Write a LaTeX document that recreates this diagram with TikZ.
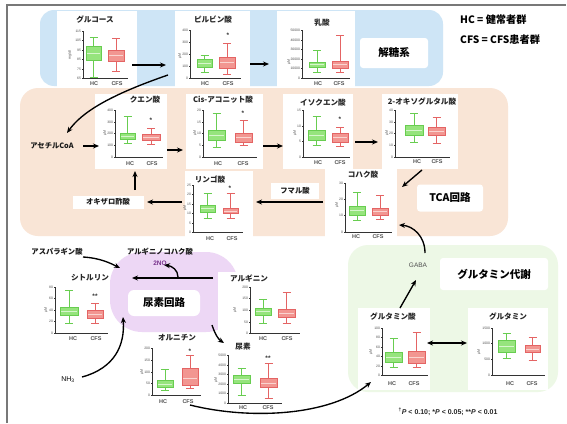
\documentclass[tikz,border=0pt]{standalone}
\usepackage{fontspec}
\setmainfont{Noto Sans CJK JP}
\newfontfamily\lat{Liberation Sans}
\usetikzlibrary{arrows.meta}
\definecolor{bluebg}{RGB}{206,229,246}
\definecolor{beigebg}{RGB}{249,229,214}
\definecolor{greenbg}{RGB}{237,248,230}
\definecolor{purplebg}{RGB}{237,215,245}
\definecolor{hcd}{RGB}{104,205,80}
\definecolor{hcf}{RGB}{150,228,125}
\definecolor{hcm}{RGB}{215,246,205}
\definecolor{cfd}{RGB}{228,100,100}
\definecolor{cff}{RGB}{242,150,145}
\definecolor{cfm}{RGB}{250,212,208}
\definecolor{framec}{RGB}{120,120,120}
\definecolor{txtgray}{RGB}{80,80,80}
\definecolor{noc}{RGB}{120,50,140}
\newcommand\bp[8]{%
 \pgfmathsetmacro\bpc{(#2+#3)/2}%
 \draw[#1l] (\bpc,#4) -- (\bpc,#5) (\bpc,#7) -- (\bpc,#8) (\bpc-4,#4) -- (\bpc+4,#4) (\bpc-4,#8) -- (\bpc+4,#8);
 \draw[#1l, fill=#1f] (#2,#5) rectangle (#3,#7);
 \draw[draw=#1m, line width=0.8pt] (#2+1,#6) -- (#3-1,#6);
}
\newcommand\ax[6]{%
 \draw[axl] (#2,#3) -- (#2,#4) -- (#5,#4);
 \foreach \ty/\tl [count=\ti] in {#6} {\draw[axl] (#2,\ty) -- (#2-1.5,\ty); \node[tk] (#1t\ti) at (#2-1.8,\ty) {\tl};}
}
\begin{document}
\begin{tikzpicture}[x=1pt,y=-1pt,
 hcl/.style={draw=hcd, line width=0.7pt},
 cfl/.style={draw=cfd, line width=0.7pt},
 axl/.style={draw=black!80, line width=0.7pt},
 tk/.style={anchor=east, inner sep=0, font=\lat\fontsize{3.4}{4}\selectfont, text=txtgray},
 unit/.style={rotate=90, inner sep=0, font=\lat\fontsize{3.6}{4}\selectfont, text=txtgray},
 grp/.style={inner sep=0, font=\lat\bfseries\fontsize{5.5}{6}\selectfont, text=txtgray},
 ttl/.style={inner sep=0, font=\bfseries\fontsize{7.6}{8}\selectfont, text=black!85},
 lbl/.style={inner sep=1.5, font=\bfseries\fontsize{7.3}{8}\selectfont, text=black!90},
 big/.style={fill=white, rounded corners=3, inner sep=0, font=\bfseries\fontsize{10.5}{12}\selectfont},
 sig/.style={inner sep=0, font=\lat\bfseries\fontsize{6.5}{6}\selectfont, text=black!80},
 pnl/.style={fill=white, draw=none, inner sep=0},
 arr/.style={-{Stealth[length=6pt,width=5pt]}, line width=1.35pt, black},
 darr/.style={{Stealth[length=6pt,width=5pt]}-{Stealth[length=6pt,width=5pt]}, line width=1.35pt, black}]
\useasboundingbox (0,0) rectangle (567,423);
\fill[white] (0,0) rectangle (567,423);
% backgrounds
\fill[bluebg, rounded corners=14] (40,10) rectangle (443,86);
\fill[beigebg, rounded corners=18] (20,88) rectangle (508,236);
\fill[greenbg, rounded corners=20] (348,245) rectangle (558,392);
\fill[purplebg, rounded corners=32] (110,252) rectangle (238,332);
\draw[framec, line width=1.4pt] (7,423) -- (7,5) -- (566,5);
% legend
\node[anchor=west, inner sep=0, font=\bfseries\fontsize{10.2}{12}\selectfont] (leg1) at (460,20) {HC = 健常者群};
\node[anchor=west, inner sep=0, font=\bfseries\fontsize{10.2}{12}\selectfont] (leg2) at (460,40) {CFS = CFS患者群};
\node[big, minimum width=68, minimum height=30] (glyc) at (394,53) {解糖系};
\node[big, minimum width=66, minimum height=27] (tca) at (450,198) {TCA回路};
\node[big, minimum width=108, minimum height=32] (glnm) at (494,274) {グルタミン代謝};
\node[big, rounded corners=6, minimum width=72, minimum height=26] (urc) at (164,303) {尿素回路};
% ---------- panels ----------
\node[pnl,minimum width=80,minimum height=76] (glc) at (97,49) {};
\node[pnl,minimum width=75,minimum height=76] (pyr) at (212,49) {};
\node[pnl,minimum width=78,minimum height=76] (lac) at (316,49) {};
\node[pnl,minimum width=72,minimum height=75] (cit) at (131,131) {};
\node[pnl,minimum width=77,minimum height=75] (cis) at (224,131) {};
\node[pnl,minimum width=70,minimum height=75] (iso) at (318,131) {};
\node[pnl,minimum width=76,minimum height=75] (oxo) at (420,131) {};
\node[pnl,minimum width=72,minimum height=75] (suc) at (361,206) {};
\node[pnl,minimum width=68,minimum height=73] (mal) at (219,207) {};
\node[pnl,minimum width=75,minimum height=75] (citr) at (72,307) {};
\node[pnl,minimum width=82,minimum height=72] (arg) at (259,308) {};
\node[pnl,minimum width=72,minimum height=82] (glu) at (394,349) {};
\node[pnl,minimum width=80,minimum height=82] (gln) at (508,349) {};
% glucose
\node[ttl] (glcT) at (95,20) {グルコース};
\ax{glc}{83}{31}{78}{128}{31/115,40/105,50/95,59/85,69/75,78/65}
\node[unit] (glcU) at (70,55) {mg/dl};
\bp{hc}{86}{101}{37}{46}{53}{60}{77}
\bp{cf}{108}{124}{38}{50}{55}{61}{71}
\node[grp] (glcH) at (94,84) {HC};
\node[grp] (glcC) at (117,84) {CFS};
% pyruvate
\node[ttl] (pyrT) at (213,20) {ピルビン酸};
\ax{pyr}{190}{30}{78}{241}{30/400,42/300,54/200,66/100,78/0}
\node[unit] (pyrU) at (180,56) {μM};
\bp{hc}{197}{212}{55}{59}{63}{67}{72}
\bp{cf}{219}{235}{43}{57}{62}{68}{74}
\node[sig] (pyrS) at (228,35) {*};
\node[grp] (pyrH) at (205,84) {HC};
\node[grp] (pyrC) at (228,84) {CFS};
% lactate
\node[ttl] (lacT) at (322,23) {乳酸};
\ax{lac}{302}{30}{78}{350}{30/50000,40/40000,49/30000,59/20000,68/10000,78/0}
\node[unit] (lacU) at (289,62) {μM};
\bp{hc}{309}{325}{50}{62}{64}{67}{72}
\bp{cf}{332}{348}{35}{61}{64}{68}{72}
\node[grp] (lacH) at (318,84) {HC};
\node[grp] (lacC) at (339,84) {CFS};
% citrate
\node[ttl] (citT) at (145,100) {クエン酸};
\ax{cit}{115}{110}{157}{163}{110/400,122/300,133/200,145/100,157/0}
\node[unit] (citU) at (105,133) {μM};
\bp{hc}{120}{135}{116}{133}{136}{139}{143}
\bp{cf}{142}{160}{128}{134}{137}{140}{144}
\node[sig] (citS) at (151,120) {*};
\node[grp] (citH) at (130,164) {HC};
\node[grp] (citC) at (152,164) {CFS};
% cis-aconitate
\node[ttl] (cisT) at (223,100) {Cis-アコニット酸};
\ax{cis}{203}{110}{157}{257}{110/20,122/15,133/10,145/5,157/0}
\node[unit] (cisU) at (195,133) {μM};
\bp{hc}{208}{225}{113}{130}{135}{140}{147}
\bp{cf}{235}{252}{120}{133}{137}{142}{145}
\node[sig] (cisS) at (243,113) {*};
\node[grp] (cisH) at (218,164) {HC};
\node[grp] (cisC) at (243,164) {CFS};
% isocitrate
\node[ttl] (isoT) at (323,103) {イソクエン酸};
\ax{iso}{303}{110}{157}{350}{110/15,126/10,141/5,157/0}
\node[unit] (isoU) at (295,133) {μM};
\bp{hc}{308}{325}{116}{130}{135}{140}{145}
\bp{cf}{332}{348}{127}{133}{137}{142}{146}
\node[sig] (isoS) at (340,119) {*};
\node[grp] (isoH) at (318,163) {HC};
\node[grp] (isoC) at (340,163) {CFS};
% 2-oxoglutarate
\node[ttl] (oxoT) at (422,102) {2-オキソグルタル酸};
\ax{oxo}{395}{110}{157}{450}{110/40,122/30,133/20,145/10,157/0}
\node[unit] (oxoU) at (387,133) {μM};
\bp{hc}{405}{423}{113}{125}{130}{135}{142}
\bp{cf}{428}{445}{117}{127}{131}{135}{143}
\node[grp] (oxoH) at (417,162) {HC};
\node[grp] (oxoC) at (437,162) {CFS};
% succinate
\node[ttl] (sucT) at (363,175) {コハク酸};
\ax{suc}{345}{183}{232}{392}{183/30,199/20,215/10,232/0}
\node[unit] (sucU) at (337,205) {μM};
\bp{hc}{349}{365}{192}{206}{210}{215}{220}
\bp{cf}{372}{388}{195}{208}{211}{215}{219}
\node[grp] (sucH) at (356,237) {HC};
\node[grp] (sucC) at (378,237) {CFS};
% malate
\node[ttl] (malT) at (210,180) {リンゴ酸};
\ax{mal}{193}{185}{232}{243}{185/25,194/20,204/15,213/10,223/5,232/0}
\node[unit] (malU) at (185,208) {μM};
\bp{hc}{200}{215}{193}{205}{208}{212}{218}
\bp{cf}{223}{238}{193}{208}{211}{213}{218}
\node[sig] (malS) at (230,188) {*};
\node[grp] (malH) at (210,239) {HC};
\node[grp] (malC) at (232,239) {CFS};
% citrulline
\node[ttl] (citrT) at (90,278) {シトルリン};
\ax{citr}{55}{287}{333}{108}{287/80,298/60,310/40,321/20,333/0}
\node[unit] (citrU) at (46,310) {μM};
\bp{hc}{60}{78}{290}{307}{311}{315}{323}
\bp{cf}{87}{103}{303}{310}{314}{318}{323}
\node[sig] (citrS) at (95,296) {**};
\node[grp] (citrH) at (73,339) {HC};
\node[grp] (citrC) at (96,339) {CFS};
% arginine
\node[ttl] (argT) at (249,278) {アルギニン};
\ax{arg}{250}{287}{333}{300}{287/200,298/150,310/100,322/50,333/0}
\node[unit] (argU) at (235,310) {μM};
\bp{hc}{255}{271}{299}{308}{311}{315}{323}
\bp{cf}{278}{295}{292}{309}{313}{317}{323}
\node[grp] (argH) at (263,339) {HC};
\node[grp] (argC) at (287,339) {CFS};
% ornithine
\node[ttl] (ornT) at (177,338) {オルニチン};
\ax{orn}{152}{348}{395}{201}{348/200,360/150,372/100,383/50,395/0}
\node[unit] (ornU) at (142,372) {μM};
\bp{hc}{157}{173}{369}{380}{384}{387}{390}
\bp{cf}{182}{198}{355}{368}{378}{385}{388}
\node[sig] (ornS) at (190,351) {*};
\node[grp] (ornH) at (163,402) {HC};
\node[grp] (ornC) at (188,402) {CFS};
% urea
\node[ttl] (ureT) at (243,347) {尿素};
\ax{ure}{228}{355}{403}{282}{355/5000,365/4000,374/3000,384/2000,393/1000,403/0}
\node[unit] (ureU) at (216,380) {μM};
\bp{hc}{233}{250}{368}{375}{379}{383}{395}
\bp{cf}{260}{277}{363}{378}{383}{387}{398}
\node[sig] (ureS) at (268,358) {**};
\node[grp] (ureH) at (243,408) {HC};
\node[grp] (ureC) at (268,408) {CFS};
% glutamate
\node[ttl] (gluT) at (393,317) {グルタミン酸};
\ax{glu}{382}{328}{375}{428}{328/100,337/80,347/60,356/40,366/20,375/0}
\node[unit] (gluU) at (371,352) {μM};
\bp{hc}{385}{402}{338}{352}{357}{362}{367}
\bp{cf}{408}{425}{332}{351}{357}{363}{367}
\node[grp] (gluH) at (392,384) {HC};
\node[grp] (gluC) at (414,384) {CFS};
% glutamine
\node[ttl] (glnT) at (508,317) {グルタミン};
\ax{gln}{492}{328}{375}{545}{328/1500,343/1000,359/500,375/0}
\node[unit] (glnU) at (479,352) {μM};
\bp{hc}{498}{515}{333}{340}{346}{352}{358}
\bp{cf}{525}{540}{337}{345}{349}{352}{360}
\node[grp] (glnH) at (510,384) {HC};
\node[grp] (glnC) at (532,384) {CFS};
% ---------- other labels ----------
\node[lbl] (acoa) at (52,146) {アセチルCoA};
\node[lbl, fill=white, minimum width=71, minimum height=13] (oxa) at (108,202) {オキザロ酢酸};
\node[lbl, fill=white, minimum width=48, minimum height=16] (fum) at (295,191) {フマル酸};
\node[lbl] (asp) at (57,252) {アスパラギン酸};
\node[lbl] (argsuc) at (160,252) {アルギニノコハク酸};
\node[inner sep=0, font=\lat\bfseries\fontsize{6.5}{7}\selectfont, text=noc] (no) at (160,263) {2NO};
\node[inner sep=0, font=\lat\fontsize{7}{8}\selectfont] (nh3) at (68,380) {NH\textsubscript{3}};
\node[inner sep=0, font=\lat\fontsize{6.5}{8}\selectfont, text=txtgray] (gaba) at (418,265) {GABA};
\node[inner sep=0, font=\lat\bfseries\fontsize{7}{8}\selectfont, text=black!85] (foot) at (448,412) {\textsuperscript{†}\textit{P} < 0.10; *\textit{P} < 0.05; **\textit{P} < 0.01};
% ---------- connector end points ----------
\coordinate (c1) at (132,65); \coordinate (c2) at (166,65);
\coordinate (c3) at (250,64); \coordinate (c4) at (269,64);
\coordinate (c5) at (168,75); \coordinate (c6) at (67,133);
\coordinate (c7) at (83,146); \coordinate (c8) at (99,146);
\coordinate (c9) at (167,150); \coordinate (c10) at (183,150);
\coordinate (c11) at (263,146); \coordinate (c12) at (283,146);
\coordinate (c13) at (355,142); \coordinate (c14) at (378,142);
\coordinate (c15) at (422,170); \coordinate (c16) at (402,187);
\coordinate (c17) at (323,202); \coordinate (c18) at (256,202);
\coordinate (c19) at (182,202); \coordinate (c20) at (147,202);
\coordinate (c21) at (135,190); \coordinate (c22) at (135,171);
\coordinate (c23) at (425,253); \coordinate (c24) at (399,225);
\coordinate (c25) at (400,308); \coordinate (c26) at (416,280);
\coordinate (c27) at (427,343); \coordinate (c28) at (467,343);
\coordinate (c29) at (190,405); \coordinate (c30) at (371,382);
\coordinate (c31) at (83,257); \coordinate (c32) at (120,268);
\coordinate (c33) at (213,278); \coordinate (c34) at (132,278);
\coordinate (c35) at (178,277); \coordinate (c36) at (164,265);
\coordinate (c37) at (212,325); \coordinate (c38) at (224,343);
\coordinate (c39) at (82,377); \coordinate (c40) at (123,317);
% ---------- connectors ----------
\draw[arr] (c1) -- (c2);
\draw[arr] (c3) -- (c4);
\draw[arr] (c5) .. controls (110,95) and (82,112) .. (c6);
\draw[arr] (c7) -- (c8);
\draw[arr] (c9) -- (c10);
\draw[arr] (c11) -- (c12);
\draw[arr] (c13) -- (c14);
\draw[arr] (c15) -- (c16);
\draw[arr] (c17) -- (c18);
\draw[arr] (c19) -- (c20);
\draw[arr] (c21) -- (c22);
\draw[arr] (c23) .. controls (425,236) and (413,226) .. (c24);
\draw[arr] (c25) -- (c26);
\draw[darr] (c27) -- (c28);
\draw[arr] (c29) .. controls (250,420) and (330,416) .. (c30);
\draw[arr] (c31) .. controls (100,258) and (110,263) .. (c32);
\draw[arr] (c33) -- (c34);
\draw[arr] (c35) .. controls (178,270) and (172,266) .. (c36);
\draw[arr] (c37) .. controls (215,334) and (218,339) .. (c38);
\draw[arr] (c39) .. controls (115,368) and (125,345) .. (c40);
\end{tikzpicture}
\end{document}
